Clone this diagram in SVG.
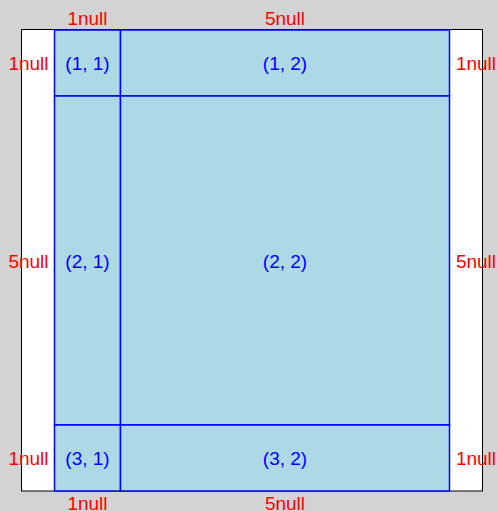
<svg xmlns="http://www.w3.org/2000/svg" width="497" height="512" viewBox="0 0 497 512">
<style>
.cell{fill:#add8e6;stroke:#0000ff;stroke-width:1.5}
.lbl{font-family:"Liberation Sans",Arial,sans-serif;font-size:19px;fill:#0000ff;text-anchor:middle;dominant-baseline:central}
.sz{font-family:"Liberation Sans",Arial,sans-serif;font-size:19px;fill:#ff0000;text-anchor:middle;dominant-baseline:central}
</style>
<rect x="0" y="0" width="497" height="512" fill="#d3d3d3"/>
<rect id="frame" x="21.5" y="29.5" width="461" height="461.5" fill="#ffffff" stroke="#000000" stroke-width="1"/>
<g id="c11"><rect class="cell" x="54.5" y="30" width="66" height="66"/><text class="lbl" x="87.5" y="63.5">(1, 1)</text></g>
<g id="c12"><rect class="cell" x="120.5" y="30" width="329" height="66"/><text class="lbl" x="285" y="63.5">(1, 2)</text></g>
<g id="c21"><rect class="cell" x="54.5" y="96" width="66" height="329"/><text class="lbl" x="87.5" y="261">(2, 1)</text></g>
<g id="c22"><rect class="cell" x="120.5" y="96" width="329" height="329"/><text class="lbl" x="285" y="261">(2, 2)</text></g>
<g id="c31"><rect class="cell" x="54.5" y="425" width="66" height="66"/><text class="lbl" x="87.5" y="458.5">(3, 1)</text></g>
<g id="c32"><rect class="cell" x="120.5" y="425" width="329" height="66"/><text class="lbl" x="285" y="458.5">(3, 2)</text></g>
<g id="sizes">
<text class="sz" x="87.5" y="18">1null</text>
<text class="sz" x="285" y="18">5null</text>
<text class="sz" x="87.5" y="503.5">1null</text>
<text class="sz" x="285" y="503.5">5null</text>
<text class="sz" x="28.5" y="63.5">1null</text>
<text class="sz" x="28.5" y="261">5null</text>
<text class="sz" x="28.5" y="458.5">1null</text>
<text class="sz" x="476" y="63.5">1null</text>
<text class="sz" x="476" y="261">5null</text>
<text class="sz" x="476" y="458.5">1null</text>
</g>
</svg>
